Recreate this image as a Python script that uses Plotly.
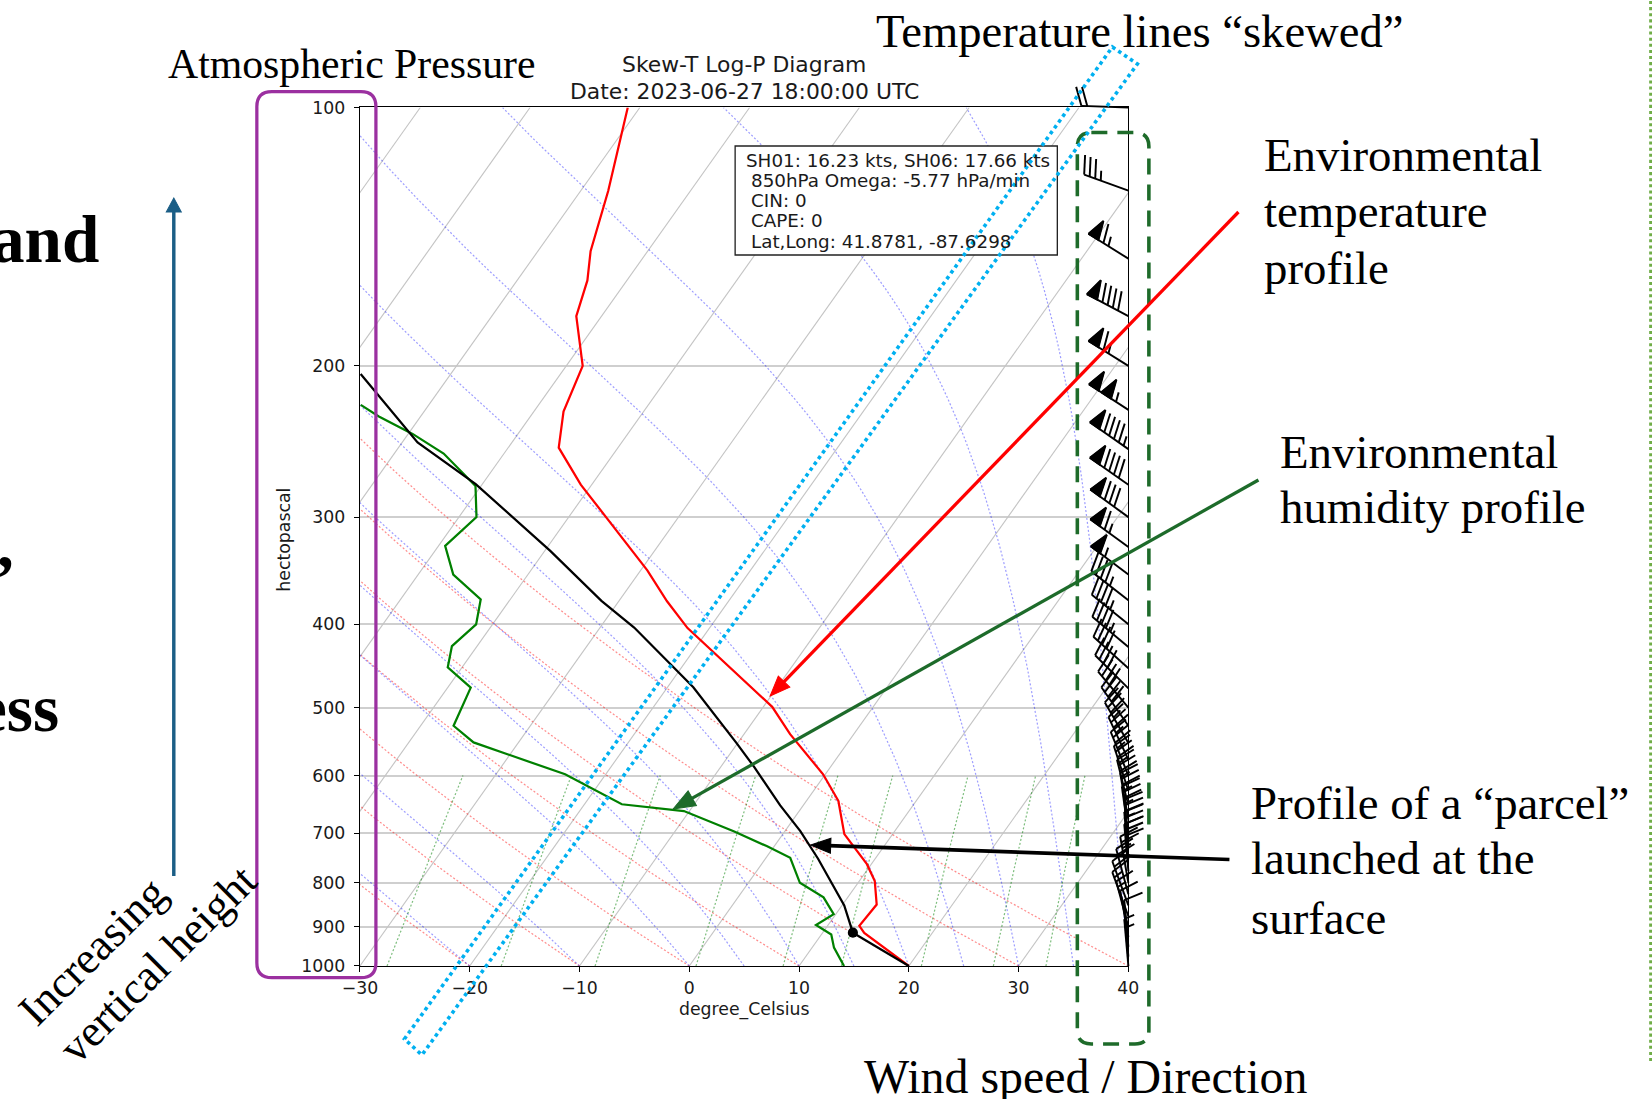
import numpy as np
import plotly.graph_objects as go

# ---------------- page geometry (target pixels in the 1652x1099 picture) ----------------
PAGE_W, PAGE_H = 1652, 1099
S, CX, CY = 0.982, 17.3, 9.0        # measured display transform: page = S*figure + (CX, CY)
W, H = 1666, 1111                   # figure size (covers the whole visible page)
AX_L, AX_R, AX_T, AX_B = 359.0, 1127.0, 106.5, 965.0   # plot frame in page pixels

# ---------------- axes ----------------
T_MIN, T_MAX = -30, 40
P_BOTTOM, P_TOP = 1000, 100
SKEW = 55.5  # x shift (degC) per decade of pressure
x_ticks = [-30, -20, -10, 0, 10, 20, 30, 40]
p_ticks = [100, 200, 300, 400, 500, 600, 700, 800, 900, 1000]

# ---------------- sounding data ----------------
temp_p = [1000, 915, 898, 848, 796, 761, 702, 642, 598, 537, 499, 437, 404, 376,
          346, 300, 275, 249, 226, 200, 175, 159, 147, 125, 108, 100]
temp_c = [20.0, 13.8, 12.9, 13.1, 11.4, 9.6, 5.6, 2.9, -0.2, -5.8, -9.2, -17.2, -22.0, -25.6,
          -29.4, -36.6, -41.0, -45.4, -47.3, -48.5, -52.3, -53.6, -55.2, -57.5, -59.9, -61.1]

dew_p = [1000, 952, 919, 896, 870, 832, 800, 748, 725, 697, 660, 648, 598, 549, 525,
         474, 449, 424, 400, 374, 350, 324, 300, 276, 253, 240, 229, 222]
dew_c = [14.1, 12.0, 10.9, 8.9, 9.8, 7.8, 4.7, 2.2, -0.7, -4.6, -10.5, -16.6, -23.7, -34.1, -37.0,
         -37.9, -41.3, -42.3, -41.5, -42.7, -46.8, -49.4, -48.4, -50.5, -55.5, -59.6, -63.8, -66.2]

parcel_p = [1000, 914.5, 850, 796, 750, 696.5, 650, 587, 550, 473.5, 429.6, 403.4,
            375.6, 328.4, 274.6, 245.5, 204.4]
parcel_c = [20.0, 12.75, 10.2, 7.4, 4.8, 1.4, -2.1, -6.9, -10.1, -17.65, -23.3, -26.9,
            -31.6, -39.5, -50.6, -58.6, -68.2]

lcl_p = [914.5]
lcl_c = [12.75]

wind_p = [100, 125, 150, 175, 200, 225, 250, 275, 300, 325, 350, 375, 400, 425, 450, 475,
          500, 525, 550, 575, 600, 625, 650, 675, 700, 725, 750, 775, 800, 825, 850, 875,
          900, 925, 950, 975, 1000]
wind_kt = [20, 35, 65, 90, 65, 105, 95, 90, 80, 65, 55, 45, 45, 45, 40, 40,
           40, 40, 35, 35, 35, 35, 35, 35, 35, 35, 30, 30, 25, 20, 20, 15,
           15, 10, 10, 5, 5]
wind_dir = [272, 290, 302, 298, 302, 303, 305, 305, 306, 306, 307, 308, 309, 310, 312, 315,
            320, 325, 330, 335, 338, 342, 346, 350, 352, 355, 355, 355, 350, 345, 340, 340,
            345, 350, 355, 355, 355]

# background line families (MetPy defaults)
isotherm_t = list(range(-90, 41, 10))
dry_adiabat_t0 = [-30, -20, -10, 0, 10, 20, 30, 40]
moist_adiabat_t0 = [-30, -20, -10, 0, 5, 10, 15, 20, 25, 30, 35, 40]
mixing_ratios = [0.0004, 0.001, 0.002, 0.004, 0.007, 0.01, 0.016, 0.024, 0.032]

info_lines = ["SH01: 16.23 kts, SH06: 17.66 kts",
              "850hPa Omega: -5.77 hPa/min",
              "CIN: 0",
              "CAPE: 0",
              "Lat,Long: 41.8781, -87.6298"]

# ---------------- helpers ----------------
def skew(t, p):
    return np.asarray(t, float) + SKEW * np.log10(P_BOTTOM / np.asarray(p, float))

Rd, Cp, Lv, EPS = 287.04749, 1004.6662, 2.50084e6, 0.6219569

def sat_vp(Tk):
    return 6.112 * np.exp(17.67 * (Tk - 273.15) / (Tk - 29.65))

def moist_curve(t0, pres):
    def f(p, T):
        e = sat_vp(T)
        rs = EPS * e / (p - e)
        return (Rd * T + Lv * rs) / (Cp + Lv * Lv * rs * EPS / (Rd * T * T)) / p
    T = t0 + 273.15
    out = [T]
    for i in range(len(pres) - 1):
        p = pres[i]
        h = pres[i + 1] - p
        k1 = f(p, T)
        k2 = f(p + h / 2, T + h * k1 / 2)
        k3 = f(p + h / 2, T + h * k2 / 2)
        k4 = f(p + h, T + h * k3)
        T = T + h * (k1 + 2 * k2 + 2 * k3 + k4) / 6
        out.append(T)
    return np.array(out) - 273.15

def joined(curves):
    xs, ys = [], []
    for x, y in curves:
        xs += list(x) + [None]
        ys += list(y) + [None]
    return xs, ys

def lw(v):
    return v / S

fig = go.Figure()

# isotherms
cur = []
for t in isotherm_t:
    pp = np.array([P_BOTTOM, P_TOP])
    cur.append((skew([t, t], pp), pp))
xs, ys = joined(cur)
fig.add_trace(go.Scatter(x=xs, y=ys, mode="lines", line=dict(color="#c4c4c4", width=lw(1.1)), hoverinfo="skip"))

# dry adiabats
pl = np.linspace(P_BOTTOM, P_TOP, 50)
cur = []
for t0 in dry_adiabat_t0:
    tt = (t0 + 273.15) * (pl / 1000.0) ** (Rd / Cp) - 273.15
    cur.append((skew(tt, pl), pl))
xs, ys = joined(cur)
fig.add_trace(go.Scatter(x=xs, y=ys, mode="lines",
                         line=dict(color="rgba(255,0,0,0.45)", width=lw(1.2), dash="2px,2px"), hoverinfo="skip"))

# moist adiabats
pm = np.linspace(P_BOTTOM, P_TOP, 100)
cur = []
for t0 in moist_adiabat_t0:
    tt = moist_curve(t0, pm)
    cur.append((skew(tt, pm), pm))
xs, ys = joined(cur)
fig.add_trace(go.Scatter(x=xs, y=ys, mode="lines",
                         line=dict(color="rgba(0,0,255,0.38)", width=lw(1.2), dash="2px,2px"), hoverinfo="skip"))

# mixing ratio lines
pw = np.linspace(P_BOTTOM, 600, 30)
cur = []
for w in mixing_ratios:
    e = pw * w / (EPS + w)
    lnr = np.log(e / 6.112)
    td = 243.5 * lnr / (17.67 - lnr)
    cur.append((skew(td, pw), pw))
xs, ys = joined(cur)
fig.add_trace(go.Scatter(x=xs, y=ys, mode="lines",
                         line=dict(color="rgba(0,128,0,0.5)", width=lw(1.2), dash="2px,2px"), hoverinfo="skip"))

# profiles
fig.add_trace(go.Scatter(x=skew(temp_c, temp_p), y=temp_p, mode="lines",
                         line=dict(color="#ff0000", width=lw(2.2)), hoverinfo="skip"))
fig.add_trace(go.Scatter(x=skew(dew_c, dew_p), y=dew_p, mode="lines",
                         line=dict(color="#008000", width=lw(2.2)), hoverinfo="skip"))
fig.add_trace(go.Scatter(x=skew(parcel_c, parcel_p), y=parcel_p, mode="lines",
                         line=dict(color="black", width=lw(2.2)), hoverinfo="skip"))
fig.add_trace(go.Scatter(x=skew(lcl_c, lcl_p), y=lcl_p, mode="markers",
                         marker=dict(color="black", size=lw(10)), hoverinfo="skip"))

# wind barbs (drawn on full-figure overlay axes x2/y2 with identical scale, so not clipped)
kx = (AX_R - AX_L) / (T_MAX - T_MIN)          # page px per degC
ky = (AX_B - AX_T) / np.log10(P_BOTTOM / P_TOP)  # page px per decade
BL = 47.0
sp, fh, fw = 0.125 * BL, 0.4 * BL, 0.25 * BL
lx, ly, fx, fy = [], [], [], []
for p, spd, d in zip(wind_p, wind_kt, wind_dir):
    r = np.radians(d)
    sx, sy = np.sin(r), np.cos(r)
    nx, ny = np.cos(r), -np.sin(r)

    def tod(a, b, p=p, sx=sx, sy=sy, nx=nx, ny=ny):
        ox = a * nx + b * sx
        oy = a * ny + b * sy
        return T_MAX + ox / kx, p * 10 ** (-oy / ky)

    def seg(pts, X, Y):
        for a, b in pts:
            xx, yy = tod(a, b)
            X.append(xx)
            Y.append(yy)
        X.append(None)
        Y.append(None)

    seg([(0, 0), (0, BL)], lx, ly)
    nflags = int(spd // 50)
    nbarbs = int((spd % 50) // 10)
    half = (spd % 10) >= 5
    off = BL
    for i in range(nflags):
        if off != BL:
            off += sp / 2
        tri = [(0, off), (fh, off - fw / 2), (0, off - fw), (0, off)]
        seg(tri, fx, fy)
        seg(tri, lx, ly)
        off -= fw + sp
    for i in range(nbarbs):
        seg([(0, off), (fh, off + fw / 2)], lx, ly)
        off -= sp
    if half:
        if off == BL:
            off -= 1.5 * sp
        seg([(0, off), (fh / 2, off + fw / 4)], lx, ly)

fig.add_trace(go.Scatter(x=fx, y=fy, xaxis="x2", yaxis="y2", mode="lines", fill="toself",
                         fillcolor="black", line=dict(color="black", width=lw(1)), hoverinfo="skip"))
fig.add_trace(go.Scatter(x=lx, y=ly, xaxis="x2", yaxis="y2", mode="lines",
                         line=dict(color="black", width=lw(1.9)), hoverinfo="skip"))

# ---------------- layout ----------------
def F(x, y):
    """page pixel -> figure pixel"""
    return (x - CX) / S, (y - CY) / S

def P(x, y):
    """page pixel -> paper coordinates"""
    fx_, fy_ = F(x, y)
    return fx_ / W, 1 - fy_ / H

x2_range = [T_MIN + (CX - AX_L) / kx, T_MIN + (CX + S * W - AX_L) / kx]
y2_range = [np.log10(P_BOTTOM) + (CY + S * H - AX_B) / ky, np.log10(P_TOP) - (AX_T - CY) / ky]
tickfont = dict(family="DejaVu Sans", size=17 / S, color="#1a1a1a")
dx0, _ = P(AX_L, 0)
dx1, _ = P(AX_R, 0)
_, dy0 = P(0, AX_B)
_, dy1 = P(0, AX_T)

fig.update_layout(
    width=W, height=H, margin=dict(l=0, r=0, t=0, b=0),
    paper_bgcolor="white", plot_bgcolor="rgba(0,0,0,0)", showlegend=False,
    xaxis=dict(domain=[dx0, dx1], range=[T_MIN, T_MAX], tickvals=x_ticks,
               ticks="outside", ticklen=lw(5), tickwidth=lw(1), tickcolor="black",
               showline=True, linecolor="black", linewidth=lw(1.2), mirror=True,
               showgrid=False, zeroline=False, tickfont=tickfont, ticklabelstandoff=1),
    yaxis=dict(domain=[dy0, dy1], type="log",
               range=[np.log10(P_BOTTOM), np.log10(P_TOP)], tickvals=p_ticks,
               ticktext=[str(v) for v in p_ticks],
               ticks="outside", ticklen=lw(5), tickwidth=lw(1), tickcolor="black",
               showline=True, linecolor="black", linewidth=lw(1.2), mirror=True,
               showgrid=True, gridcolor="#cfcfcf", gridwidth=lw(1.6), zeroline=False,
               tickfont=tickfont, ticklabelstandoff=5),
    xaxis2=dict(domain=[0, 1], range=x2_range, anchor="y2", visible=False),
    yaxis2=dict(domain=[0, 1], type="log", range=y2_range, anchor="x2", visible=False),
)

def text(t, x, y, size, family="Liberation Serif", xanchor="center", angle=0,
         color="black", weight="normal"):
    px_, py_ = P(x, y)
    fig.add_annotation(text=t, x=px_, y=py_, xref="paper", yref="paper", showarrow=False,
                       xanchor=xanchor, yanchor="middle", textangle=angle,
                       font=dict(family=family, size=size / S, color=color, weight=weight))

def serif(t, x, baseline, size, **kw):
    text(t, x, baseline - 0.3375 * size, size, **kw)

shapes = []

def path_from(pts, close=True):
    s = ""
    for i, (x, y) in enumerate(pts):
        px_, py_ = P(x, y)
        s += ("M" if i == 0 else "L") + f"{px_:.6f},{py_:.6f} "
    return s + ("Z" if close else "")

def rounded_rect(L, T, R, B, r):
    def q(x, y):
        a, b = P(x, y)
        return f"{a:.6f},{b:.6f}"
    return (f"M{q(L + r, T)} L{q(R - r, T)} Q{q(R, T)} {q(R, T + r)} L{q(R, B - r)} "
            f"Q{q(R, B)} {q(R - r, B)} L{q(L + r, B)} Q{q(L, B)} {q(L, B - r)} "
            f"L{q(L, T + r)} Q{q(L, T)} {q(L + r, T)} Z")

def arrow(x0, y0, x1, y1, color, width, hl, hw):
    d = np.array([x1 - x0, y1 - y0], float)
    u = d / np.hypot(*d)
    n = np.array([-u[1], u[0]])
    base = np.array([x1, y1]) - u * hl
    a0, b0 = P(x0, y0)
    a1, b1 = P(*(base + u * 2))
    shapes.append(dict(type="line", xref="paper", yref="paper", x0=a0, y0=b0, x1=a1, y1=b1,
                       line=dict(color=color, width=lw(width)), layer="above"))
    tri = [(x1, y1), tuple(base + n * hw / 2), tuple(base - n * hw / 2)]
    shapes.append(dict(type="path", xref="paper", yref="paper", path=path_from(tri),
                       fillcolor=color, line=dict(color=color, width=lw(1)), layer="above"))

# info box
bx0, by0 = P(734, 145)
bx1, by1 = P(1056, 254)
shapes.append(dict(type="rect", xref="paper", yref="paper", x0=bx0, y0=by0, x1=bx1, y1=by1,
                   fillcolor="white", line=dict(color="#222222", width=lw(1.3)), layer="above"))

# purple box around pressure axis
shapes.append(dict(type="path", xref="paper", yref="paper", path=rounded_rect(256, 90.6, 375, 976.7, 15),
                   line=dict(color="#9b30a0", width=lw(3.2)), layer="above"))
# green dashed box around wind barbs
shapes.append(dict(type="path", xref="paper", yref="paper", path=rounded_rect(1076, 131.5, 1147.5, 1043, 14),
                   line=dict(color="#1e6b2a", width=lw(3.5), dash="16px,10px"), layer="above"))
# cyan skewed band
shapes.append(dict(type="path", xref="paper", yref="paper",
                   path=path_from([(1111, 46), (1136, 63), (421, 1054), (403.5, 1038)]),
                   line=dict(color="#00b0f0", width=lw(3.5), dash="dot"), layer="above"))
# right dotted divider
vx0, vy0 = P(1649, 0)
vx1, vy1 = P(1649, 1060)
shapes.append(dict(type="line", xref="paper", yref="paper", x0=vx0, y0=vy0, x1=vx1, y1=vy1,
                   line=dict(color="#70ad47", width=lw(3), dash="dot"), layer="above"))

arrow(1237, 211, 769, 695, "#ff0000", 3.2, 20, 16)
arrow(1257, 479, 672, 808, "#1d6b2a", 3.2, 22, 17)
arrow(1228, 858.5, 809.5, 844, "black", 3.6, 20, 15)
arrow(173, 875, 173, 197, "#1b5e86", 3.4, 14, 15)

fig.update_layout(shapes=shapes)

# chart texts
text("Skew-T Log-P Diagram", 743, 64, 21.5, family="DejaVu Sans", color="#1a1a1a")
text("Date: 2023-06-27 18:00:00 UTC", 743, 90.6, 21.5, family="DejaVu Sans", color="#1a1a1a")
text("degree_Celsius", 743, 1009, 17, family="DejaVu Sans", color="#1a1a1a")
text("hectopascal", 283.4, 538.4, 17, family="DejaVu Sans", angle=-90, color="#1a1a1a")
for i, line in enumerate(info_lines):
    text(line, 743 if i == 0 else 748, 159.1 + 20.25 * i, 18, family="DejaVu Sans",
         xanchor="left", color="#1a1a1a")

# annotation texts
serif("Atmospheric Pressure", 351.4, 77, 41)
serif("Temperature lines \u201cskewed\u201d", 1139, 45, 45.8)
serif("Environmental", 1261, 170, 46, xanchor="left")
serif("temperature", 1261, 226, 46, xanchor="left")
serif("profile", 1261, 283, 46, xanchor="left")
serif("Environmental", 1277, 466.7, 46, xanchor="left")
serif("humidity profile", 1277, 521.7, 46, xanchor="left")
serif("Profile of a \u201cparcel\u201d", 1248, 818, 46, xanchor="left")
serif("launched at the", 1248, 873, 46, xanchor="left")
serif("surface", 1248, 932.5, 46, xanchor="left")
serif("Wind speed / Direction", 1084, 1091, 47)
serif("and", 100, 261, 66, xanchor="right", weight="bold")
serif(",", 15, 566, 66, xanchor="right", weight="bold")
serif("ess", 60, 730, 66, xanchor="right", weight="bold")
text("Increasing", 92, 950, 44, family="Liberation Serif", angle=-45)
text("vertical height", 157, 963, 44, family="Liberation Serif", angle=-45)

fig.write_html("out.html")
